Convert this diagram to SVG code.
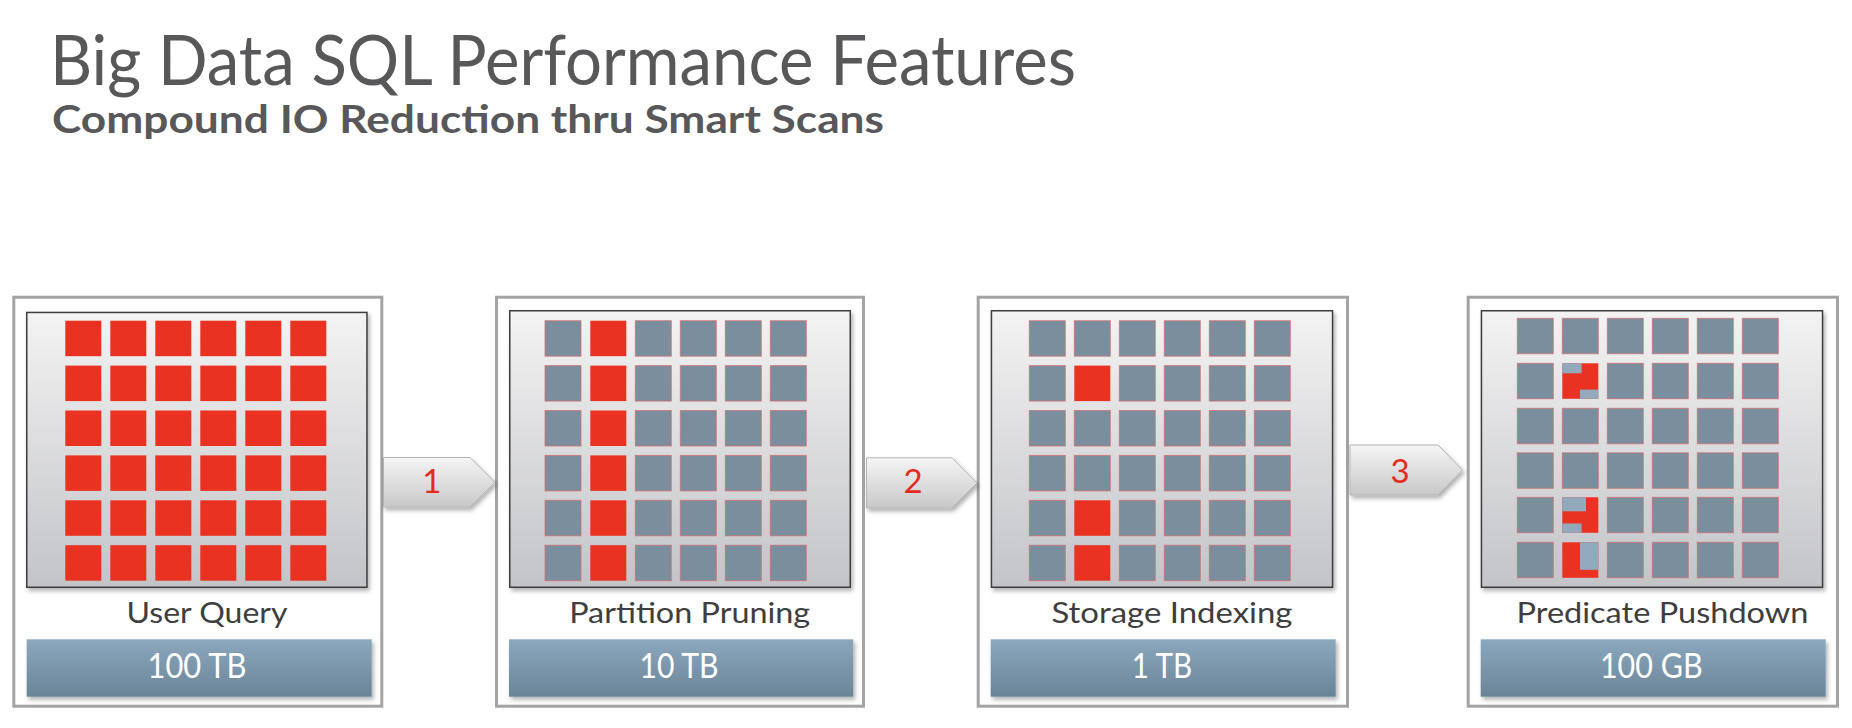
<svg xmlns="http://www.w3.org/2000/svg" xmlns:xlink="http://www.w3.org/1999/xlink" width="1852" height="728" viewBox="0 0 1852 728">
<style>
  .title{font-family:Lato,"Liberation Sans",sans-serif;font-size:70px;fill:#58585a}
  .subtitle{font-family:Lato,"Liberation Sans",sans-serif;font-size:39px;font-weight:700;fill:#58585a}
  .outer{fill:#ffffff;stroke:#a3a3a3;stroke-width:3}
  .inner{fill:url(#panelGrad);stroke:#3c3c3c;stroke-width:1.5;filter:url(#shadow)}
  .bar{fill:url(#barGrad);filter:url(#shadow)}
  .label{font-family:Lato,"Liberation Sans",sans-serif;font-size:28px;fill:#3e3e40;text-anchor:middle}
  .value{font-family:Lato,"Liberation Sans",sans-serif;font-size:35px;fill:#ffffff;text-anchor:middle}
  .r{fill:#ea3223}
  .g{fill:#7b8e9d;stroke:#d46a6a;stroke-width:1;stroke-opacity:0.7}
  .lb{fill:#93aabd}
  .arrow{fill:url(#arrowGrad);stroke:#b4b4b4;stroke-width:1;filter:url(#shadow)}
  .num{font-family:Lato,"Liberation Sans",sans-serif;font-size:33px;fill:#e32b1f;text-anchor:middle}
</style>
<defs>
  <linearGradient id="panelGrad" x1="0" y1="0" x2="0" y2="1">
    <stop offset="0" stop-color="#f3f3f3"/>
    <stop offset="1" stop-color="#c3c4c8"/>
  </linearGradient>
  <linearGradient id="barGrad" x1="0" y1="0" x2="0" y2="1">
    <stop offset="0" stop-color="#8ca8be"/>
    <stop offset="1" stop-color="#6a8497"/>
  </linearGradient>
  <linearGradient id="arrowGrad" x1="0" y1="0" x2="0" y2="1">
    <stop offset="0" stop-color="#f5f5f5"/>
    <stop offset="1" stop-color="#c8c8c8"/>
  </linearGradient>
  <filter id="shadow" x="-10%" y="-10%" width="125%" height="130%">
    <feDropShadow dx="2" dy="3" stdDeviation="2" flood-color="#000000" flood-opacity="0.3"/>
  </filter>
  <rect id="sq" width="36" height="35.5"/>
</defs>

<g id="title">
  <text class="title" x="50" y="85" textLength="1026" lengthAdjust="spacingAndGlyphs">Big Data SQL Performance Features</text>
  <text class="subtitle" x="52" y="133" textLength="832" lengthAdjust="spacingAndGlyphs">Compound IO Reduction thru Smart Scans</text>
</g>

<g id="node-user-query">
  <rect class="outer" x="13.8" y="297.2" width="368" height="409"/>
  <rect class="inner" x="26.75" y="312.45" width="340.2" height="274.8"/>
  <g class="r">
    <use href="#sq" x="65.3" y="320.7"/><use href="#sq" x="110.3" y="320.7"/><use href="#sq" x="155.3" y="320.7"/><use href="#sq" x="200.3" y="320.7"/><use href="#sq" x="245.3" y="320.7"/><use href="#sq" x="290.3" y="320.7"/>
    <use href="#sq" x="65.3" y="365.6"/><use href="#sq" x="110.3" y="365.6"/><use href="#sq" x="155.3" y="365.6"/><use href="#sq" x="200.3" y="365.6"/><use href="#sq" x="245.3" y="365.6"/><use href="#sq" x="290.3" y="365.6"/>
    <use href="#sq" x="65.3" y="410.5"/><use href="#sq" x="110.3" y="410.5"/><use href="#sq" x="155.3" y="410.5"/><use href="#sq" x="200.3" y="410.5"/><use href="#sq" x="245.3" y="410.5"/><use href="#sq" x="290.3" y="410.5"/>
    <use href="#sq" x="65.3" y="455.4"/><use href="#sq" x="110.3" y="455.4"/><use href="#sq" x="155.3" y="455.4"/><use href="#sq" x="200.3" y="455.4"/><use href="#sq" x="245.3" y="455.4"/><use href="#sq" x="290.3" y="455.4"/>
    <use href="#sq" x="65.3" y="500.3"/><use href="#sq" x="110.3" y="500.3"/><use href="#sq" x="155.3" y="500.3"/><use href="#sq" x="200.3" y="500.3"/><use href="#sq" x="245.3" y="500.3"/><use href="#sq" x="290.3" y="500.3"/>
    <use href="#sq" x="65.3" y="545.2"/><use href="#sq" x="110.3" y="545.2"/><use href="#sq" x="155.3" y="545.2"/><use href="#sq" x="200.3" y="545.2"/><use href="#sq" x="245.3" y="545.2"/><use href="#sq" x="290.3" y="545.2"/>
  </g>
  <text class="label" x="207" y="623" textLength="161" lengthAdjust="spacingAndGlyphs">User Query</text>
  <rect class="bar" x="26.7" y="639.3" width="345" height="57.4"/>
  <text class="value" x="197" y="678.3" textLength="99" lengthAdjust="spacingAndGlyphs">100 TB</text>
</g>

<g id="node-partition-pruning">
  <rect class="outer" x="496.5" y="297.2" width="367" height="409"/>
  <rect class="inner" x="509.75" y="310.75" width="340.5" height="276.5"/>
  <g class="g">
    <use href="#sq" x="545" y="320.7"/><use href="#sq" x="635.3" y="320.7"/><use href="#sq" x="680.3" y="320.7"/><use href="#sq" x="725.3" y="320.7"/><use href="#sq" x="770.3" y="320.7"/>
    <use href="#sq" x="545" y="365.6"/><use href="#sq" x="635.3" y="365.6"/><use href="#sq" x="680.3" y="365.6"/><use href="#sq" x="725.3" y="365.6"/><use href="#sq" x="770.3" y="365.6"/>
    <use href="#sq" x="545" y="410.5"/><use href="#sq" x="635.3" y="410.5"/><use href="#sq" x="680.3" y="410.5"/><use href="#sq" x="725.3" y="410.5"/><use href="#sq" x="770.3" y="410.5"/>
    <use href="#sq" x="545" y="455.4"/><use href="#sq" x="635.3" y="455.4"/><use href="#sq" x="680.3" y="455.4"/><use href="#sq" x="725.3" y="455.4"/><use href="#sq" x="770.3" y="455.4"/>
    <use href="#sq" x="545" y="500.3"/><use href="#sq" x="635.3" y="500.3"/><use href="#sq" x="680.3" y="500.3"/><use href="#sq" x="725.3" y="500.3"/><use href="#sq" x="770.3" y="500.3"/>
    <use href="#sq" x="545" y="545.2"/><use href="#sq" x="635.3" y="545.2"/><use href="#sq" x="680.3" y="545.2"/><use href="#sq" x="725.3" y="545.2"/><use href="#sq" x="770.3" y="545.2"/>
  </g>
  <g class="r">
    <use href="#sq" x="590.3" y="320.7"/><use href="#sq" x="590.3" y="365.6"/><use href="#sq" x="590.3" y="410.5"/><use href="#sq" x="590.3" y="455.4"/><use href="#sq" x="590.3" y="500.3"/><use href="#sq" x="590.3" y="545.2"/>
  </g>
  <text class="label" x="689.7" y="623" textLength="241" lengthAdjust="spacingAndGlyphs">Partition Pruning</text>
  <rect class="bar" x="509" y="639.3" width="344.3" height="57.4"/>
  <text class="value" x="679" y="678.3" textLength="79" lengthAdjust="spacingAndGlyphs">10 TB</text>
</g>

<g id="node-storage-indexing">
  <rect class="outer" x="978.2" y="297.2" width="369.3" height="409"/>
  <rect class="inner" x="991.45" y="310.75" width="341.1" height="276.5"/>
  <g class="g">
    <use href="#sq" x="1029.3" y="320.7"/><use href="#sq" x="1074.3" y="320.7"/><use href="#sq" x="1119.3" y="320.7"/><use href="#sq" x="1164.3" y="320.7"/><use href="#sq" x="1209.3" y="320.7"/><use href="#sq" x="1254.3" y="320.7"/>
    <use href="#sq" x="1029.3" y="365.6"/><use href="#sq" x="1119.3" y="365.6"/><use href="#sq" x="1164.3" y="365.6"/><use href="#sq" x="1209.3" y="365.6"/><use href="#sq" x="1254.3" y="365.6"/>
    <use href="#sq" x="1029.3" y="410.5"/><use href="#sq" x="1074.3" y="410.5"/><use href="#sq" x="1119.3" y="410.5"/><use href="#sq" x="1164.3" y="410.5"/><use href="#sq" x="1209.3" y="410.5"/><use href="#sq" x="1254.3" y="410.5"/>
    <use href="#sq" x="1029.3" y="455.4"/><use href="#sq" x="1074.3" y="455.4"/><use href="#sq" x="1119.3" y="455.4"/><use href="#sq" x="1164.3" y="455.4"/><use href="#sq" x="1209.3" y="455.4"/><use href="#sq" x="1254.3" y="455.4"/>
    <use href="#sq" x="1029.3" y="500.3"/><use href="#sq" x="1119.3" y="500.3"/><use href="#sq" x="1164.3" y="500.3"/><use href="#sq" x="1209.3" y="500.3"/><use href="#sq" x="1254.3" y="500.3"/>
    <use href="#sq" x="1029.3" y="545.2"/><use href="#sq" x="1119.3" y="545.2"/><use href="#sq" x="1164.3" y="545.2"/><use href="#sq" x="1209.3" y="545.2"/><use href="#sq" x="1254.3" y="545.2"/>
  </g>
  <g class="r">
    <use href="#sq" x="1074.3" y="365.6"/><use href="#sq" x="1074.3" y="500.3"/><use href="#sq" x="1074.3" y="545.2"/>
  </g>
  <text class="label" x="1172" y="623" textLength="241" lengthAdjust="spacingAndGlyphs">Storage Indexing</text>
  <rect class="bar" x="990.7" y="639.3" width="345" height="57.4"/>
  <text class="value" x="1162" y="678.3" textLength="60.6" lengthAdjust="spacingAndGlyphs">1 TB</text>
</g>

<g id="node-predicate-pushdown">
  <rect class="outer" x="1468.2" y="297.2" width="369.3" height="409"/>
  <rect class="inner" x="1481.45" y="310.75" width="341.1" height="276.5"/>
  <g class="g">
    <use href="#sq" x="1517.3" y="318.3"/><use href="#sq" x="1562.3" y="318.3"/><use href="#sq" x="1607.3" y="318.3"/><use href="#sq" x="1652.3" y="318.3"/><use href="#sq" x="1697.3" y="318.3"/><use href="#sq" x="1742.3" y="318.3"/>
    <use href="#sq" x="1517.3" y="363.3"/><use href="#sq" x="1607.3" y="363.3"/><use href="#sq" x="1652.3" y="363.3"/><use href="#sq" x="1697.3" y="363.3"/><use href="#sq" x="1742.3" y="363.3"/>
    <use href="#sq" x="1517.3" y="408.3"/><use href="#sq" x="1562.3" y="408.3"/><use href="#sq" x="1607.3" y="408.3"/><use href="#sq" x="1652.3" y="408.3"/><use href="#sq" x="1697.3" y="408.3"/><use href="#sq" x="1742.3" y="408.3"/>
    <use href="#sq" x="1517.3" y="452.8"/><use href="#sq" x="1562.3" y="452.8"/><use href="#sq" x="1607.3" y="452.8"/><use href="#sq" x="1652.3" y="452.8"/><use href="#sq" x="1697.3" y="452.8"/><use href="#sq" x="1742.3" y="452.8"/>
    <use href="#sq" x="1517.3" y="497.3"/><use href="#sq" x="1607.3" y="497.3"/><use href="#sq" x="1652.3" y="497.3"/><use href="#sq" x="1697.3" y="497.3"/><use href="#sq" x="1742.3" y="497.3"/>
    <use href="#sq" x="1517.3" y="542.3"/><use href="#sq" x="1607.3" y="542.3"/><use href="#sq" x="1652.3" y="542.3"/><use href="#sq" x="1697.3" y="542.3"/><use href="#sq" x="1742.3" y="542.3"/>
  </g>
  <g id="partial-blocks">
    <use href="#sq" class="r" x="1562.3" y="363.3"/>
    <rect class="lb" x="1562.3" y="363.3" width="19.3" height="10"/>
    <rect class="lb" x="1580" y="389.6" width="18.3" height="9.2"/>
    <use href="#sq" class="r" x="1562.3" y="497.3"/>
    <rect class="lb" x="1562.3" y="497.3" width="23.7" height="14"/>
    <rect class="lb" x="1562.3" y="523.5" width="19.3" height="9.3"/>
    <use href="#sq" class="r" x="1562.3" y="542.3"/>
    <rect class="lb" x="1580" y="542.3" width="18.3" height="27.5"/>
  </g>
  <text class="label" x="1662.5" y="623" textLength="292" lengthAdjust="spacingAndGlyphs">Predicate Pushdown</text>
  <rect class="bar" x="1480.7" y="639.3" width="345" height="57.4"/>
  <text class="value" x="1651.3" y="678.3" textLength="102.7" lengthAdjust="spacingAndGlyphs">100 GB</text>
</g>

<g id="connectors">
  <g id="arrow-1">
    <polygon class="arrow" points="383.5,457.5 470,457.5 495,482.2 470,507 383.5,507"/>
    <text class="num" x="431.7" y="492.7">1</text>
  </g>
  <g id="arrow-2">
    <polygon class="arrow" points="866.5,457.8 952,457.8 977,483 952,508 866.5,508"/>
    <text class="num" x="913" y="492.5">2</text>
  </g>
  <g id="arrow-3">
    <polygon class="arrow" points="1350,445 1438,445 1462.5,470 1438,495 1350,495"/>
    <text class="num" x="1400" y="482.7">3</text>
  </g>
</g>
</svg>
